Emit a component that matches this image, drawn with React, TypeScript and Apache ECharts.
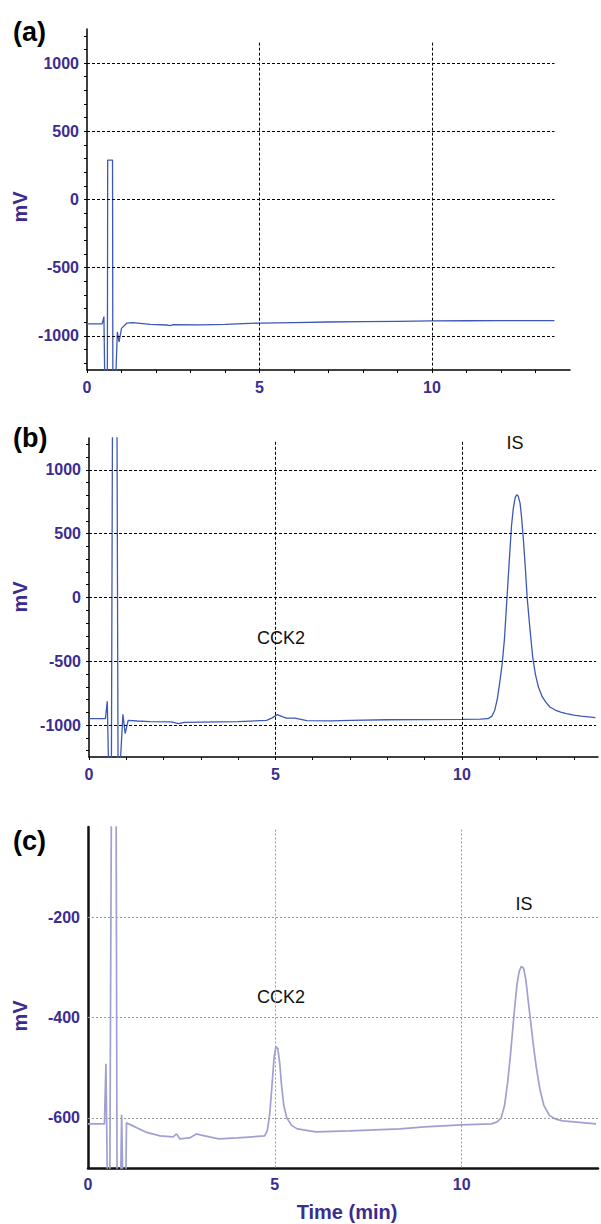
import React, { useEffect, useRef } from "react";
import * as echarts from "echarts";

// ---- Panel (a) ----
const TIME_A = [0, 0.44, 0.49, 0.52, 0.59, 0.6, 0.74, 0.75, 0.82, 0.88, 0.93, 1.0, 1.15, 1.33, 1.83, 2.3, 2.41, 2.5, 3.28, 4.0, 5.0, 6.0, 7.0, 8.0, 9.0, 10.0, 11.0, 12.0, 13.0, 13.55];
const MV_A = [-912, -912, -858, -1400, -1400, 289, 289, -1400, -1400, -971, -1044, -945, -907, -903, -915, -920, -925, -918, -919, -915, -906, -902, -898, -895, -893, -890, -889, -888, -888, -888];

// ---- Panel (b) ----
const TIME_B = [0, 0.44, 0.49, 0.53, 0.6, 0.63, 0.75, 0.78, 0.82, 0.91, 0.97, 1.05, 1.3, 1.64, 2.2, 2.4, 2.55, 3.0, 4.0, 4.76, 4.9, 5.05, 5.2, 5.3, 5.52, 5.84, 6.5, 7.0, 8.0, 9.0, 10.0, 10.5, 10.7, 10.8, 10.88, 10.95, 11.02, 11.08, 11.14, 11.21, 11.28, 11.33, 11.38, 11.43, 11.47, 11.51, 11.56, 11.6, 11.65, 11.7, 11.75, 11.82, 11.9, 11.97, 12.05, 12.15, 12.25, 12.36, 12.5, 12.65, 12.8, 13.0, 13.2, 13.58];
const MV_B = [-950, -950, -814, -1400, -1400, 1400, 1400, -1400, -1400, -916, -1066, -963, -968, -972, -975, -988, -978, -976, -973, -963, -945, -918, -935, -945, -945, -965, -967, -963, -958, -957, -955, -953, -950, -932, -885, -795, -655, -520, -330, 0, 330, 560, 700, 785, 805, 795, 740, 630, 450, 240, 0, -230, -470, -600, -700, -775, -820, -858, -882, -898, -910, -922, -930, -942];

// ---- Panel (c) ----
const TIME_C = [0, 0.44, 0.48, 0.53, 0.58, 0.63, 0.75, 0.78, 0.86, 0.9, 0.95, 1.0, 1.03, 1.2, 1.57, 1.93, 2.28, 2.37, 2.46, 2.72, 2.9, 3.0, 3.5, 4.0, 4.73, 4.8, 4.86, 4.92, 4.98, 5.03, 5.08, 5.13, 5.18, 5.24, 5.32, 5.45, 5.6, 6.1, 7.0, 8.35, 9.0, 10.0, 10.8, 10.95, 11.06, 11.15, 11.23, 11.3, 11.36, 11.42, 11.48, 11.54, 11.6, 11.66, 11.72, 11.78, 11.85, 11.92, 12.0, 12.1, 12.2, 12.35, 12.5, 12.7, 13.0, 13.3, 13.6];
const MV_C = [-612, -612, -492, -800, -800, 100, 100, -800, -800, -594, -800, -800, -610, -616, -629, -636, -638, -632, -642, -640, -632, -634, -642, -640, -636, -625, -595, -540, -480, -458, -462, -490, -535, -575, -600, -615, -622, -628, -626, -622, -618, -614, -612, -608, -600, -575, -530, -480, -430, -380, -335, -308, -298, -302, -325, -365, -410, -455, -500, -545, -575, -595, -602, -606, -608, -610, -612];

// ---- Axes ticks / labels ----
const X_LABELS = [0, 5, 10];
const X_TICKS = [0, 1, 2, 3, 4, 5, 6, 7, 8, 9, 10, 11, 12, 13];
const Y_LABELS_AB = [-1000, -500, 0, 500, 1000];
const Y_TICKS_AB = [-1200, -1100, -1000, -900, -800, -700, -600, -500, -400, -300, -200, -100, 0, 100, 200, 300, 400, 500, 600, 700, 800, 900, 1000, 1100, 1200];
const Y_LABELS_C = [-600, -400, -200];
const GRID_X = [5, 10];

const PURPLE = "#3b2d8f";
const FONT = "Arial, 'Liberation Sans', Helvetica, sans-serif";

function zip(t: number[], v: number[]) {
  return t.map((x, i) => [x, v[i]]);
}

function gridMarks(xs: number[], ys: number[], xEnd: number, yTop: number, yBottom: number, style: any) {
  const data: any[] = [];
  ys.forEach((y) => data.push([{ coord: [0, y] }, { coord: [xEnd, y] }]));
  xs.forEach((x) => data.push([{ coord: [x, yTop] }, { coord: [x, yBottom] }]));
  return {
    symbol: ["none", "none"],
    silent: true,
    animation: false,
    label: { show: false },
    lineStyle: style,
    emphasis: { disabled: true },
    data,
  };
}

export default function App() {
  const ref = useRef<HTMLDivElement>(null);
  useEffect(() => {
    if (!ref.current) return;
    const chart = echarts.init(ref.current, null, { renderer: "svg" });
    const fmt = (v: number) => String(v);
    const xLabel = { customValues: X_LABELS, formatter: fmt, color: PURPLE, fontWeight: "bold", fontSize: 16, fontFamily: FONT, margin: 9 };
    const yLabel = (vals: number[]) => ({ customValues: vals, formatter: fmt, color: PURPLE, fontWeight: "bold", fontSize: 16, fontFamily: FONT, margin: 8 });
    const axisLineAB = { show: true, onZero: false, lineStyle: { color: "#000", width: 1.5 } };
    const axisLineC = { show: true, onZero: false, lineStyle: { color: "#111", width: 2.5 } };
    const tickAB = (vals: number[]) => ({ show: true, customValues: vals, length: 3, lineStyle: { color: "#000", width: 1 } });
    const dashed = { type: [3, 2], color: "#000", width: 1 };
    const dotted = { type: [2, 2], color: "#9a9a9a", width: 1 };

    const option: any = {
      animation: false,
      backgroundColor: "#fff",
      grid: [
        { left: 87, top: 29, width: 483, height: 341 },
        { left: 89, top: 438, width: 509, height: 319 },
        { left: 88, top: 827, width: 510, height: 341 },
      ],
      xAxis: [
        { gridIndex: 0, type: "value", min: 0, max: 14, axisLine: axisLineAB, axisTick: tickAB(X_TICKS), axisLabel: xLabel, splitLine: { show: false } },
        { gridIndex: 1, type: "value", min: 0, max: 13.65, axisLine: axisLineAB, axisTick: tickAB(X_TICKS), axisLabel: xLabel, splitLine: { show: false } },
        { gridIndex: 2, type: "value", min: 0, max: 13.65, axisLine: axisLineC, axisTick: { show: false }, axisLabel: { ...xLabel, margin: 8 }, splitLine: { show: false } },
      ],
      yAxis: [
        { gridIndex: 0, type: "value", min: -1250, max: 1250, axisLine: axisLineAB, axisTick: tickAB(Y_TICKS_AB), axisLabel: yLabel(Y_LABELS_AB), splitLine: { show: false } },
        { gridIndex: 1, type: "value", min: -1250, max: 1250, axisLine: axisLineAB, axisTick: tickAB(Y_TICKS_AB), axisLabel: yLabel(Y_LABELS_AB), splitLine: { show: false } },
        { gridIndex: 2, type: "value", min: -700, max: -20, axisLine: axisLineC, axisTick: { show: false }, axisLabel: yLabel(Y_LABELS_C), splitLine: { show: false } },
      ],
      series: [
        {
          type: "line", xAxisIndex: 0, yAxisIndex: 0, data: zip(TIME_A, MV_A), showSymbol: false, z: 3,
          lineStyle: { color: "#3d58b8", width: 1.3 },
          markLine: gridMarks(GRID_X, Y_LABELS_AB, 13.55, 1150, -1250, dashed),
        },
        {
          type: "line", xAxisIndex: 1, yAxisIndex: 1, data: zip(TIME_B, MV_B), showSymbol: false, z: 3,
          lineStyle: { color: "#3d58b8", width: 1.3 },
          markLine: gridMarks(GRID_X, Y_LABELS_AB, 13.6, 1220, -1250, dashed),
        },
        {
          type: "line", xAxisIndex: 2, yAxisIndex: 2, data: zip(TIME_C, MV_C), showSymbol: false, z: 3,
          lineStyle: { color: "#a0a0d2", width: 1.7 },
          markLine: gridMarks(GRID_X, Y_LABELS_C, 13.65, -25, -700, dotted),
        },
      ],
      graphic: [
        { type: "text", x: 13, y: 32, style: { text: "(a)", font: `bold 27px ${FONT}`, fill: "#000", textVerticalAlign: "middle" } },
        { type: "text", x: 13, y: 438, style: { text: "(b)", font: `bold 27px ${FONT}`, fill: "#000", textVerticalAlign: "middle" } },
        { type: "text", x: 13, y: 841, style: { text: "(c)", font: `bold 27px ${FONT}`, fill: "#000", textVerticalAlign: "middle" } },
        { type: "text", x: 20, y: 207, rotation: Math.PI / 2, style: { text: "mV", font: `bold 20px ${FONT}`, fill: PURPLE, textAlign: "center", textVerticalAlign: "middle" } },
        { type: "text", x: 20, y: 597, rotation: Math.PI / 2, style: { text: "mV", font: `bold 20px ${FONT}`, fill: PURPLE, textAlign: "center", textVerticalAlign: "middle" } },
        { type: "text", x: 20, y: 1016, rotation: Math.PI / 2, style: { text: "mV", font: `bold 20px ${FONT}`, fill: PURPLE, textAlign: "center", textVerticalAlign: "middle" } },
        { type: "text", x: 347, y: 1212, style: { text: "Time (min)", font: `bold 20px ${FONT}`, fill: PURPLE, textAlign: "center", textVerticalAlign: "middle" } },
        { type: "text", x: 515, y: 443, style: { text: "IS", font: `18px ${FONT}`, fill: "#111", textAlign: "center", textVerticalAlign: "middle" } },
        { type: "text", x: 281, y: 638, style: { text: "CCK2", font: `18px ${FONT}`, fill: "#111", textAlign: "center", textVerticalAlign: "middle" } },
        { type: "text", x: 524, y: 904, style: { text: "IS", font: `18px ${FONT}`, fill: "#111", textAlign: "center", textVerticalAlign: "middle" } },
        { type: "text", x: 281, y: 997, style: { text: "CCK2", font: `18px ${FONT}`, fill: "#111", textAlign: "center", textVerticalAlign: "middle" } },
      ],
    };
    chart.setOption(option);
    return () => chart.dispose();
  }, []);
  return <div ref={ref} style={{ position: "absolute", left: 0, top: 0, width: 601, height: 1224 }} />;
}
